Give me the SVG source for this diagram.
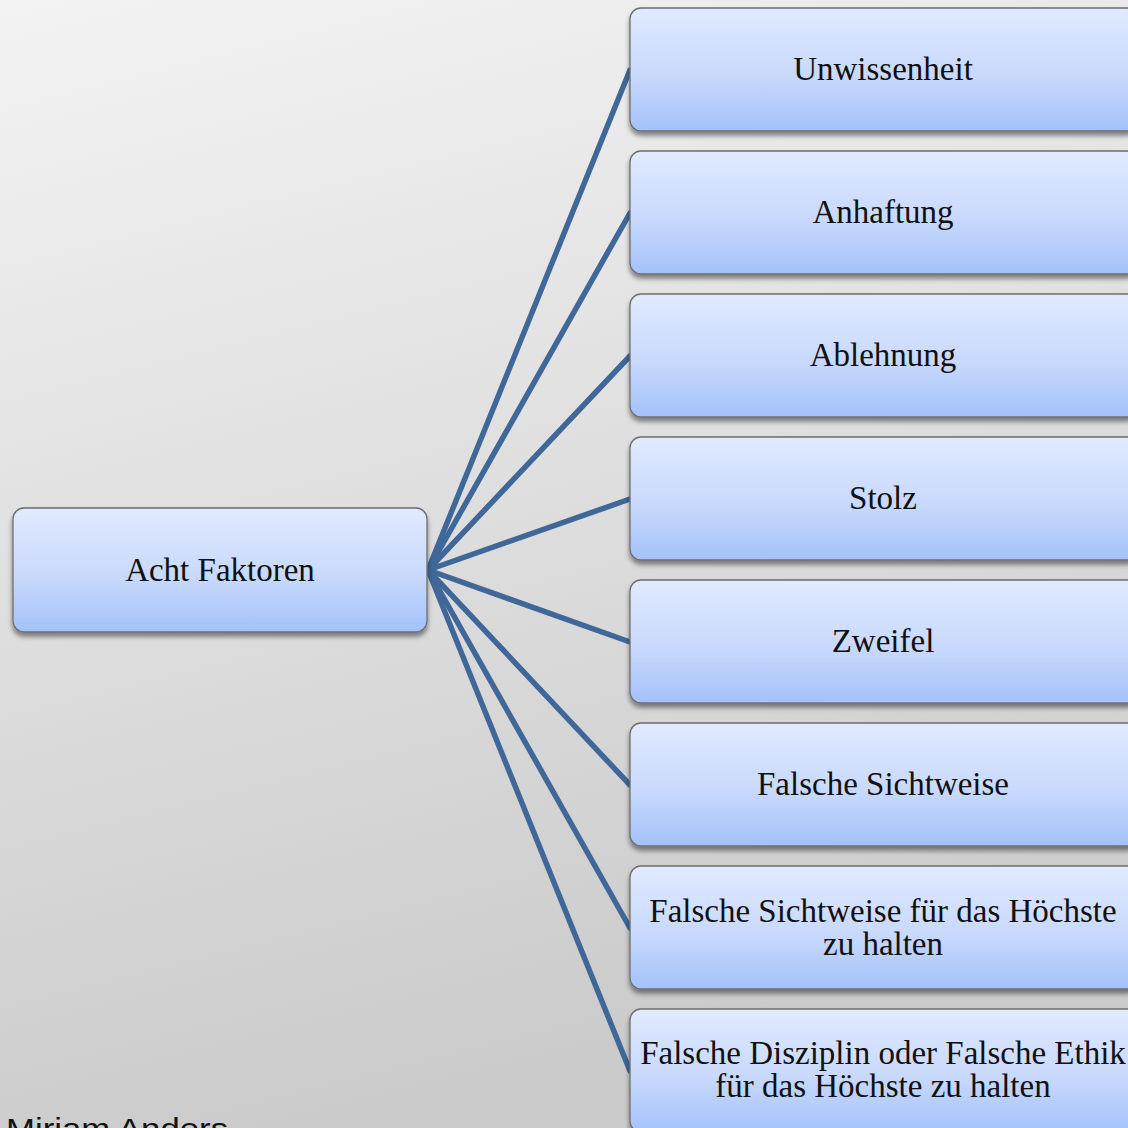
<svg xmlns="http://www.w3.org/2000/svg" width="1128" height="1128" viewBox="0 0 1128 1128">
<defs>
<linearGradient id="bg" x1="0" y1="0" x2="0.25" y2="1">
<stop offset="0" stop-color="#f3f3f3"/>
<stop offset="1" stop-color="#cbcbcb"/>
</linearGradient>
<linearGradient id="box" x1="0" y1="0" x2="0" y2="1">
<stop offset="0" stop-color="#e1eaff"/>
<stop offset="0.55" stop-color="#c8d9fc"/>
<stop offset="1" stop-color="#a3c2fa"/>
</linearGradient>
<filter id="sh" x="-10%" y="-10%" width="120%" height="130%">
<feGaussianBlur in="SourceAlpha" stdDeviation="2.5"/>
<feOffset dx="0" dy="4" result="b"/>
<feComponentTransfer><feFuncA type="linear" slope="0.45"/></feComponentTransfer>
<feMerge><feMergeNode/><feMergeNode in="SourceGraphic"/></feMerge>
</filter>
</defs>
<style>
.node rect{fill:url(#box);stroke:#6e6e6e;stroke-width:1.3;filter:url(#sh)}
.node text{font-family:"Liberation Serif","Times New Roman",serif;font-size:33px;fill:#111;text-anchor:middle}
.conn line{stroke:#3f6899;stroke-width:5.5;stroke-linecap:round}
.author{font-family:"Liberation Sans",Arial,sans-serif;font-size:29px;fill:#111}
</style>
<rect x="0" y="0" width="1128" height="1128" fill="url(#bg)"/>
<g id="connectors" class="conn">
<line x1="428" y1="570" x2="630" y2="70"/>
<line x1="428" y1="570" x2="630" y2="213"/>
<line x1="428" y1="570" x2="630" y2="356"/>
<line x1="428" y1="570" x2="630" y2="499"/>
<line x1="428" y1="570" x2="630" y2="642"/>
<line x1="428" y1="570" x2="630" y2="785"/>
<line x1="428" y1="570" x2="630" y2="928"/>
<line x1="428" y1="570" x2="630" y2="1071"/>
</g>
<g id="root" class="node">
<rect x="13" y="508" width="414" height="124" rx="11"/>
<text x="220" y="581">Acht Faktoren</text>
</g>
<g id="n1" class="node">
<rect x="630" y="8" width="508" height="123" rx="11"/>
<text x="883" y="80">Unwissenheit</text>
</g>
<g id="n2" class="node">
<rect x="630" y="151" width="508" height="123" rx="11"/>
<text x="883" y="223">Anhaftung</text>
</g>
<g id="n3" class="node">
<rect x="630" y="294" width="508" height="123" rx="11"/>
<text x="883" y="366">Ablehnung</text>
</g>
<g id="n4" class="node">
<rect x="630" y="437" width="508" height="123" rx="11"/>
<text x="883" y="509">Stolz</text>
</g>
<g id="n5" class="node">
<rect x="630" y="580" width="508" height="123" rx="11"/>
<text x="883" y="652">Zweifel</text>
</g>
<g id="n6" class="node">
<rect x="630" y="723" width="508" height="123" rx="11"/>
<text x="883" y="795">Falsche Sichtweise</text>
</g>
<g id="n7" class="node">
<rect x="630" y="866" width="508" height="123" rx="11"/>
<text x="883" y="922">Falsche Sichtweise für das Höchste</text>
<text x="883" y="955">zu halten</text>
</g>
<g id="n8" class="node">
<rect x="630" y="1009" width="508" height="123" rx="11"/>
<text x="883" y="1064">Falsche Disziplin oder Falsche Ethik</text>
<text x="883" y="1097">für das Höchste zu halten</text>
</g>
<text class="author" x="6" y="1139" textLength="222" lengthAdjust="spacingAndGlyphs">Miriam Anders</text>
</svg>
